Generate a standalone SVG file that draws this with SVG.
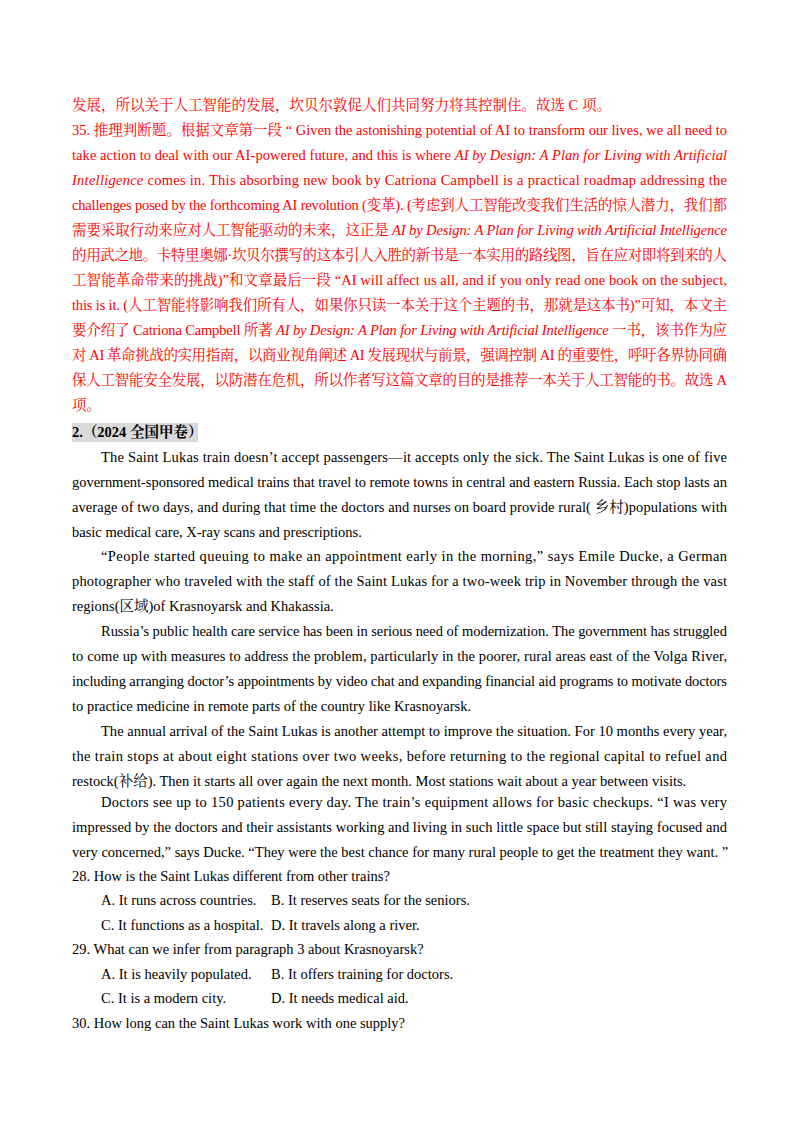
<svg xmlns="http://www.w3.org/2000/svg" width="800" height="1132" viewBox="0 0 800 1132">
<style>
text{font-family:"Liberation Serif","Noto Serif CJK SC","Noto Sans CJK SC",serif;font-size:14.5px;fill:#000}
.r{fill:#ff0000}
.i{font-style:italic}
.b{font-weight:bold}
</style>
<rect width="800" height="1132" fill="#fff"/>
<g id="answer">
<text class="r" x="72" y="110">发展，所以关于人工智能的发展，坎贝尔敦促人们共同努力将其控制住。故选 C 项。</text>
<text class="r" x="72" y="135" textLength="655" lengthAdjust="spacing">35. 推理判断题。根据文章第一段 “ Given the astonishing potential of AI to transform our lives, we all need to</text>
<text class="r" x="72" y="160" textLength="655" lengthAdjust="spacing">take action to deal with our AI-powered future, and this is where  <tspan class="i">AI by Design: A Plan for Living with Artificial</tspan></text>
<text class="r" x="72" y="185" textLength="655" lengthAdjust="spacing"><tspan class="i">Intelligence</tspan> comes in. This absorbing new book by Catriona Campbell is a practical roadmap addressing the</text>
<text class="r" x="72" y="210" textLength="655" lengthAdjust="spacing">challenges posed by the forthcoming AI revolution (变革). (考虑到人工智能改变我们生活的惊人潜力，我们都</text>
<text class="r" x="72" y="235" textLength="655" lengthAdjust="spacing">需要采取行动来应对人工智能驱动的未来，这正是 <tspan class="i">AI by Design: A Plan for Living with Artificial Intelligence</tspan></text>
<text class="r" x="72" y="260" textLength="655" lengthAdjust="spacing">的用武之地。卡特里奥娜·坎贝尔撰写的这本引人入胜的新书是一本实用的路线图，旨在应对即将到来的人</text>
<text class="r" x="72" y="285" textLength="655" lengthAdjust="spacing">工智能革命带来的挑战)”和文章最后一段 “AI will affect us all, and if you only read one book on the subject,</text>
<text class="r" x="72" y="310" textLength="655" lengthAdjust="spacing">this is it. (人工智能将影响我们所有人，如果你只读一本关于这个主题的书，那就是这本书)”可知，本文主</text>
<text class="r" x="72" y="335" textLength="655" lengthAdjust="spacing">要介绍了 Catriona Campbell 所著 <tspan class="i">AI by Design: A Plan for Living with Artificial Intelligence</tspan> 一书，该书作为应</text>
<text class="r" x="72" y="360" textLength="655" lengthAdjust="spacing">对 AI 革命挑战的实用指南，以商业视角阐述 AI 发展现状与前景，强调控制 AI 的重要性，呼吁各界协同确</text>
<text class="r" x="72" y="385" textLength="655" lengthAdjust="spacing">保人工智能安全发展，以防潜在危机，所以作者写这篇文章的目的是推荐一本关于人工智能的书。故选 A</text>
<text class="r" x="72" y="410">项。</text>
</g>
<g id="header">
<rect x="72" y="423" width="126" height="19" fill="#d9d9d9"/>
<text class="b" x="72" y="437">2.（2024 全国甲卷）</text>
</g>
<g id="passage">
<text x="101" y="462" textLength="626" lengthAdjust="spacing">The Saint Lukas train doesn’t accept passengers—it accepts only the sick. The Saint Lukas is one of five</text>
<text x="72" y="487" textLength="655" lengthAdjust="spacing">government-sponsored medical trains that travel to remote towns in central and eastern Russia. Each stop lasts an</text>
<text x="72" y="512" textLength="655" lengthAdjust="spacing">average of two days, and during that time the doctors and nurses on board provide rural( 乡村)populations with</text>
<text x="72" y="537">basic medical care, X-ray scans and prescriptions.</text>
<text x="101" y="561" textLength="626" lengthAdjust="spacing">“People started queuing to make an appointment early in the morning,” says Emile Ducke, a German</text>
<text x="72" y="586" textLength="655" lengthAdjust="spacing">photographer who traveled with the staff of the Saint Lukas for a two-week trip in November through the vast</text>
<text x="72" y="611">regions(区域)of Krasnoyarsk and Khakassia.</text>
<text x="101" y="636" textLength="626" lengthAdjust="spacing">Russia’s public health care service has been in serious need of modernization. The government has struggled</text>
<text x="72" y="661" textLength="655" lengthAdjust="spacing">to come up with measures to address the problem, particularly in the poorer, rural areas east of the Volga River,</text>
<text x="72" y="686" textLength="655" lengthAdjust="spacing">including arranging doctor’s appointments by video chat and expanding financial aid programs to motivate doctors</text>
<text x="72" y="711">to practice medicine in remote parts of the country like Krasnoyarsk.</text>
<text x="101" y="736" textLength="626" lengthAdjust="spacing">The annual arrival of the Saint Lukas is another attempt to improve the situation. For 10 months every year,</text>
<text x="72" y="761" textLength="655" lengthAdjust="spacing">the train stops at about eight stations over two weeks, before returning to the regional capital to refuel and</text>
<text x="72" y="786">restock(补给). Then it starts all over again the next month. Most stations wait about a year between visits.</text>
<text x="101" y="807" textLength="626" lengthAdjust="spacing">Doctors see up to 150 patients every day. The train’s equipment allows for basic checkups. “I was very</text>
<text x="72" y="832" textLength="655" lengthAdjust="spacing">impressed by the doctors and their assistants working and living in such little space but still staying focused and</text>
<text x="72" y="857">very concerned,” says Ducke. “They were the best chance for many rural people to get the treatment they want. ”</text>
</g>
<g id="questions">
<text x="72" y="881">28. How is the Saint Lukas different from other trains?</text>
<text x="101" y="905">A. It runs across countries.</text>
<text x="271" y="905">B. It reserves seats for the seniors.</text>
<text x="101" y="930">C. It functions as a hospital.</text>
<text x="271" y="930">D. It travels along a river.</text>
<text x="72" y="954">29. What can we infer from paragraph 3 about Krasnoyarsk?</text>
<text x="101" y="979">A. It is heavily populated.</text>
<text x="271" y="979">B. It offers training for doctors.</text>
<text x="101" y="1003">C. It is a modern city.</text>
<text x="271" y="1003">D. It needs medical aid.</text>
<text x="72" y="1028">30. How long can the Saint Lukas work with one supply?</text>
</g>
</svg>
